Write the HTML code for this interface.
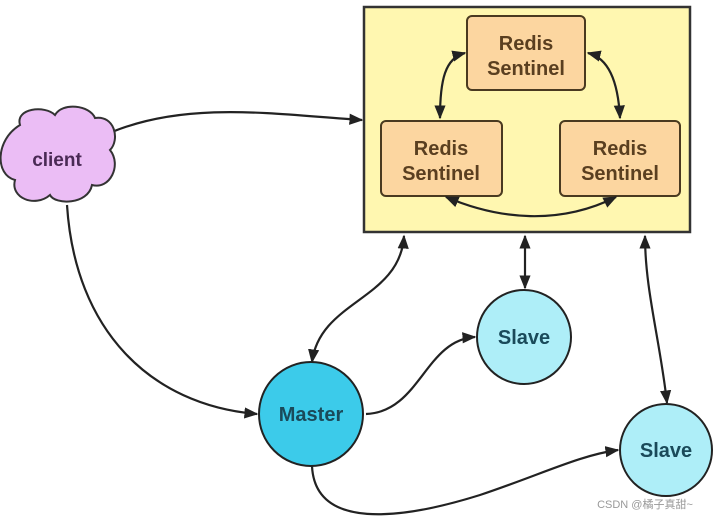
<!DOCTYPE html>
<html><head><meta charset="utf-8"><style>
body{margin:0;background:#fff;width:715px;height:516px;overflow:hidden}
text{font-family:"Liberation Sans",sans-serif;font-weight:bold}
</style></head><body>
<svg width="715" height="516" viewBox="0 0 715 516" xmlns="http://www.w3.org/2000/svg">
<defs>
<marker id="b" viewBox="0 0 10 10" refX="9" refY="5" markerWidth="14" markerHeight="14" orient="auto-start-reverse" markerUnits="userSpaceOnUse">
<path d="M0,1 L10,5 L0,9 z" fill="#222"/></marker>
</defs>
<rect x="364" y="7" width="326" height="225" fill="#fff7b0" stroke="#333" stroke-width="2.5"/>
<g stroke="#4a3a20" stroke-width="2" fill="#fcd6a0">
<rect x="467" y="16" width="118" height="74" rx="5"/>
<rect x="381" y="121" width="121" height="75" rx="5"/>
<rect x="560" y="121" width="120" height="75" rx="5"/>
</g>
<g fill="#5a3f20" font-size="20" text-anchor="middle">
<text x="526" y="50">Redis</text><text x="526" y="75">Sentinel</text>
<text x="441" y="155">Redis</text><text x="441" y="180">Sentinel</text>
<text x="620" y="155">Redis</text><text x="620" y="180">Sentinel</text>
</g>
<g fill="none" stroke="#222" stroke-width="2.2">
<path d="M465,53 C445,58 440,80 440,118" marker-start="url(#b)" marker-end="url(#b)"/>
<path d="M588,53 C608,58 618,80 620,118" marker-start="url(#b)" marker-end="url(#b)"/>
<path d="M446,197 C500,220 560,225 616,197" marker-start="url(#b)" marker-end="url(#b)"/>
<path d="M112,132 C190,100 280,115 362,120" marker-end="url(#b)"/>
<path d="M67,205 C75,330 150,405 257,414" marker-end="url(#b)"/>
<path d="M312,362 C320,300 400,300 404,236" marker-start="url(#b)" marker-end="url(#b)"/>
<path d="M525,288 L525,236" marker-start="url(#b)" marker-end="url(#b)"/>
<path d="M667,403 C660,340 645,290 645,236" marker-start="url(#b)" marker-end="url(#b)"/>
<path d="M366,414 C420,412 425,340 475,337" marker-end="url(#b)"/>
<path d="M312,466 C315,530 400,520 480,495 C540,475 580,455 618,450" marker-end="url(#b)"/>
</g>
<path d="M20,125 C15,108 45,105 55,115 C62,102 90,105 95,118 C115,115 120,140 110,150 C122,165 110,190 92,185 C88,205 55,205 50,195 C35,208 10,198 15,180 C-5,175 -5,140 20,125 Z" fill="#ebbdf5" stroke="#333" stroke-width="2"/>
<text x="57" y="166" font-size="19" fill="#4a2a55" text-anchor="middle">client</text>
<circle cx="311" cy="414" r="52" fill="#3ccbea" stroke="#222" stroke-width="2"/>
<circle cx="524" cy="337" r="47" fill="#aeeef8" stroke="#222" stroke-width="2"/>
<circle cx="666" cy="450" r="46" fill="#aeeef8" stroke="#222" stroke-width="2"/>
<g font-size="20" text-anchor="middle" fill="#1a4a5a">
<text x="311" y="421">Master</text>
<text x="524" y="344">Slave</text>
<text x="666" y="457">Slave</text>
</g>
<text x="645" y="508" font-size="11" fill="#999" text-anchor="middle" style="font-weight:normal;font-family:'Liberation Sans','Noto Sans CJK SC',sans-serif">CSDN @橘子真甜~</text>
</svg>
</body></html>
